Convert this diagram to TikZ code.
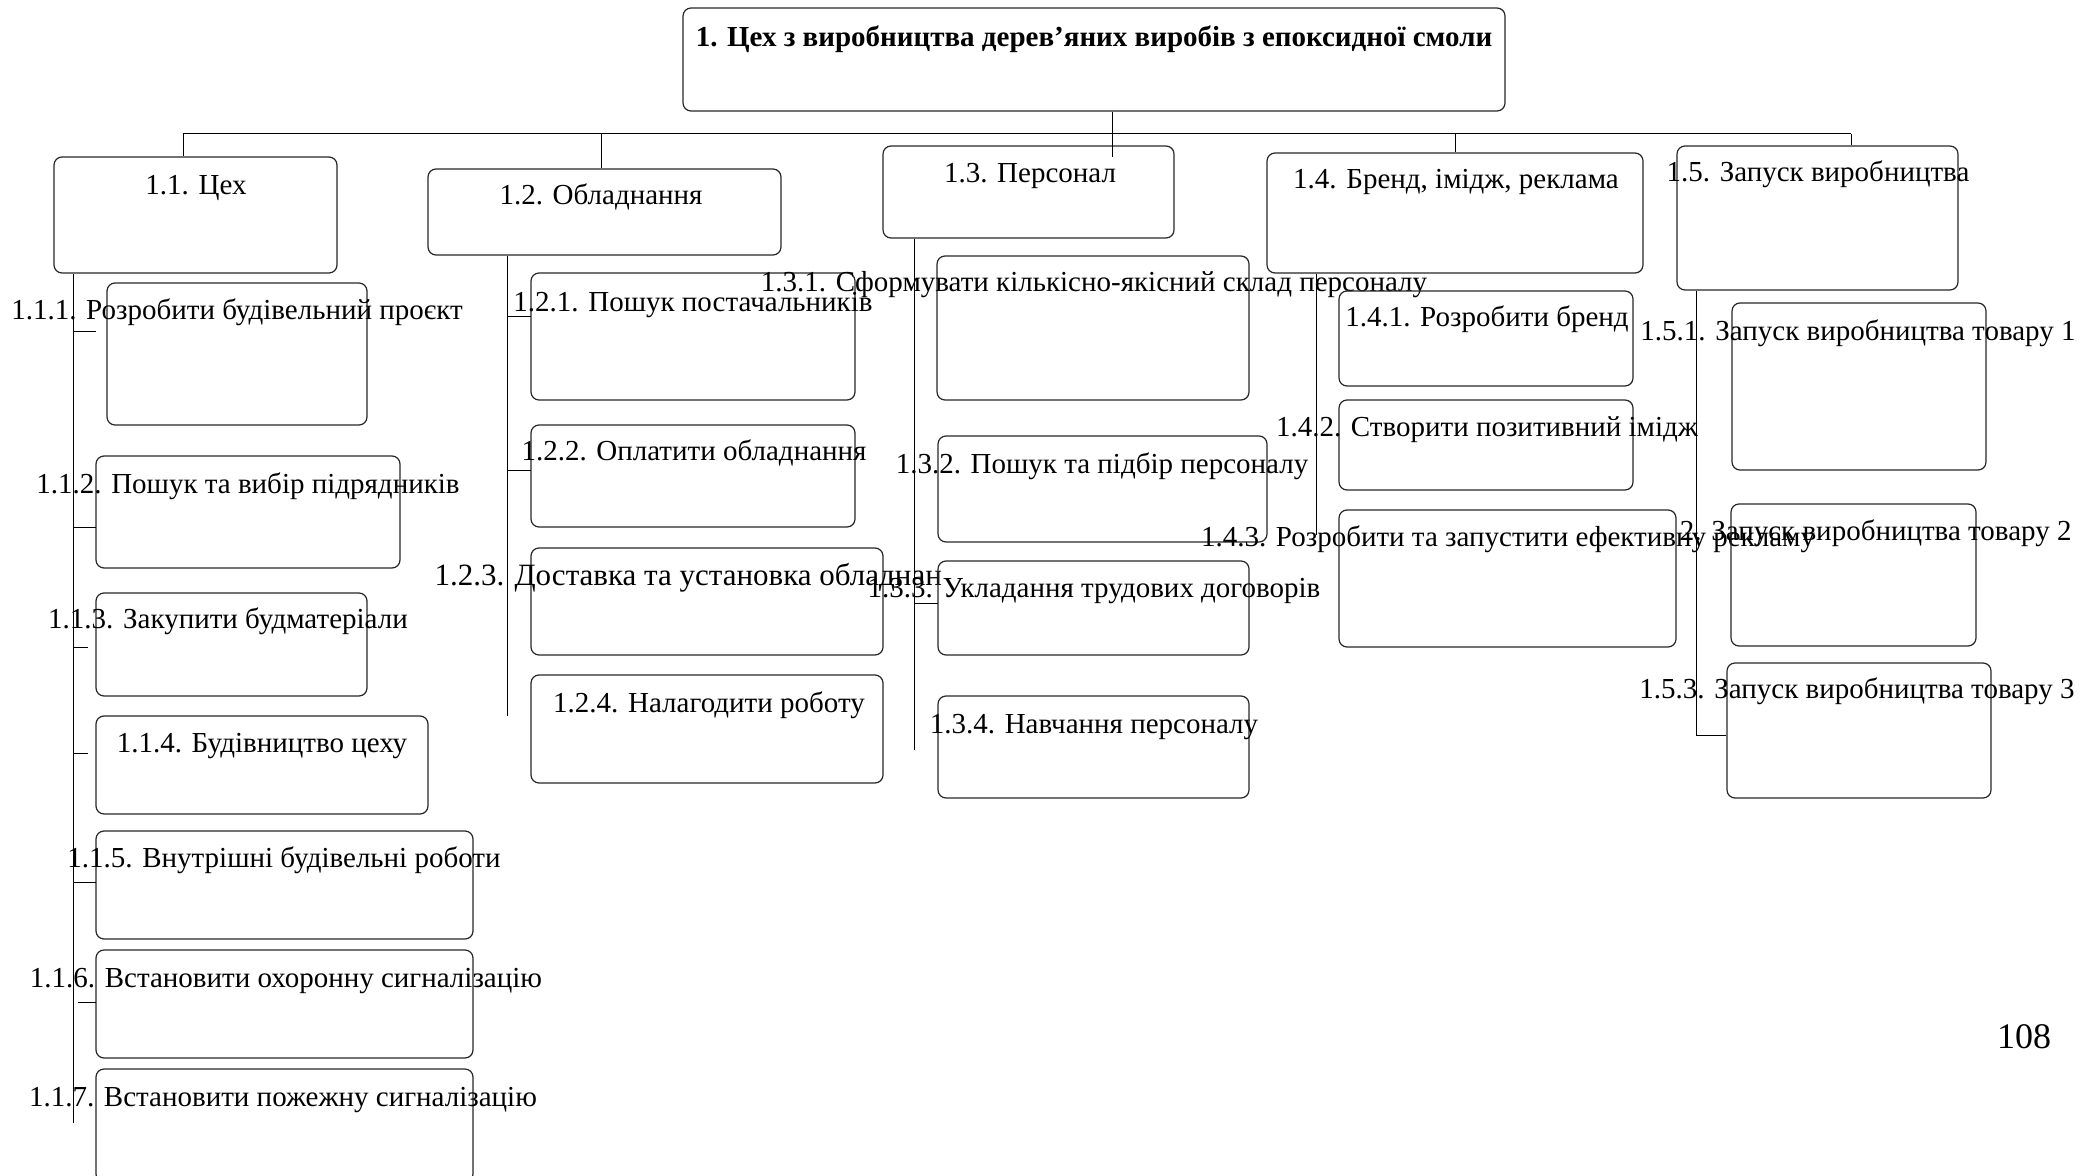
\documentclass[tikz,border=0pt]{standalone}
\usepackage{fontspec}
\setmainfont{Liberation Serif}
\usetikzlibrary{fit}

\begin{document}
\begin{tikzpicture}[x=0.5pt,y=-0.5pt,line width=0.5pt]
  \tikzstyle{wbox}=[draw=black!85,line width=0.6pt,rounded corners=4pt,inner sep=0pt]
  \tikzstyle{lbl}=[anchor=base,inner sep=0pt,font=\fontsize{14.5}{17}\selectfont]
  \tikzstyle{hlbl}=[lbl,font=\fontsize{14.5}{17}\selectfont\bfseries]
  \useasboundingbox (0,0) rectangle (2081,1176);
  % top box
  \node[wbox,fit={(683,8) (1505,111)}] (b1) {};
  \node[hlbl] (t1) at (1094,47) {1. Цех з виробництва дерев’яних виробів з епоксидної смоли};
  % first level
  \node[wbox,fit={(54,157) (337,273)}] (b11) {};
  \node[wbox,fit={(428,169) (781,255)}] (b12) {};
  \node[wbox,fit={(883,146) (1174,238)}] (b13) {};
  \node[wbox,fit={(1267,153) (1643,273)}] (b14) {};
  \node[wbox,fit={(1677,146) (1958,290)}] (b15) {};
  \node[lbl] (t11) at (196,195) {1.1. Цех};
  \node[lbl] (t12) at (601,205) {1.2. Обладнання};
  \node[lbl] (t13) at (1030,183) {1.3. Персонал};
  \node[lbl] (t14) at (1456,189) {1.4. Бренд, імідж, реклама};
  \node[lbl] (t15) at (1818,182) {1.5. Запуск виробництва};
  % column 1.1
  \node[wbox,fit={(107,283) (367,425)}] (b111) {};
  \node[wbox,fit={(96,456) (400,568)}] (b112) {};
  \node[wbox,fit={(96,593) (367,696)}] (b113) {};
  \node[wbox,fit={(96,716) (428,814)}] (b114) {};
  \node[wbox,fit={(96,831) (473,939)}] (b115) {};
  \node[wbox,fit={(96,950) (473,1058)}] (b116) {};
  \node[wbox,fit={(96,1069) (473,1182)}] (b117) {};
  \node[lbl] (t111) at (237,320) {1.1.1. Розробити будівельний проєкт};
  \node[lbl] (t112) at (248,493) {1.1.2. Пошук та вибір підрядників};
  \node[lbl] (t113) at (228,628) {1.1.3. Закупити будматеріали};
  \node[lbl] (t114) at (262,752) {1.1.4. Будівництво цеху};
  \node[lbl] (t115) at (284,867) {1.1.5. Внутрішні будівельні роботи};
  \node[lbl] (t116) at (286,987) {1.1.6. Встановити охоронну сигналізацію};
  \node[lbl] (t117) at (283,1106) {1.1.7. Встановити пожежну сигналізацію};
  % column 1.2
  \node[wbox,fit={(531,273) (855,400)}] (b121) {};
  \node[wbox,fit={(531,425) (855,527)}] (b122) {};
  \node[wbox,fit={(531,548) (883,655)}] (b123) {};
  \node[wbox,fit={(531,675) (883,783)}] (b124) {};
  \node[lbl] (t121) at (693,312) {1.2.1. Пошук постачальників};
  \node[lbl] (t122) at (694,460) {1.2.2. Оплатити обладнання};
  \node[lbl,anchor=base west,font=\fontsize{15.5}{18}\selectfont] (t123) at (434,585) {1.2.3. Доставка та установка обладнан};
  \node[lbl] (t124) at (709,712) {1.2.4. Налагодити роботу};
  % column 1.3
  \node[wbox,fit={(937,256) (1249,400)}] (b131) {};
  \node[wbox,fit={(938,436) (1267,542)}] (b132) {};
  \node[wbox,fit={(938,561) (1249,655)}] (b133) {};
  \node[wbox,fit={(938,696) (1249,798)}] (b134) {};
  \node[lbl] (t131) at (1094,292) {1.3.1. Сформувати кількісно-якісний склад персоналу};
  \node[lbl] (t132) at (1102,473) {1.3.2. Пошук та підбір персоналу};
  \node[lbl] (t133) at (1094,597) {1.3.3. Укладання трудових договорів};
  \node[lbl] (t134) at (1094,733) {1.3.4. Навчання персоналу};
  % column 1.4
  \node[wbox,fit={(1339,291) (1633,386)}] (b141) {};
  \node[wbox,fit={(1339,400) (1633,490)}] (b142) {};
  \node[wbox,fit={(1339,510) (1676,647)}] (b143) {};
  \node[lbl] (t141) at (1487,327) {1.4.1. Розробити бренд};
  \node[lbl] (t142) at (1487,437) {1.4.2. Створити позитивний імідж};
  \node[lbl] (t143) at (1508,546) {1.4.3. Розробити та запустити ефективну рекламу};
  % column 1.5
  \node[wbox,fit={(1732,303) (1986,470)}] (b151) {};
  \node[wbox,fit={(1731,504) (1976,646)}] (b152) {};
  \node[wbox,fit={(1727,663) (1991,798)}] (b153) {};
  \node[lbl] (t151) at (1858,341) {1.5.1. Запуск виробництва товару 1};
  \node[lbl,anchor=base east] (t152) at (2072,540) {2. Запуск виробництва товару 2};
  \node[lbl] (t153) at (1857,698) {1.5.3. Запуск виробництва товару 3};
  % page number
  \node[lbl,font=\fontsize{18}{20}\selectfont] (pg) at (2024,1048) {108};
  % tree lines
  \coordinate (hub) at (1112,157);
  \coordinate (barL) at (183,134);
  \coordinate (barR) at (1851,134);
  \coordinate (d12) at (601,134);
  \coordinate (d14) at (1455,134);
  \draw (b1.south -| hub) -- (hub);
  \draw (barL) -- (barR);
  \draw (barL) -- (barL |- b11.north);
  \draw (d12) -- (d12 |- b12.north);
  \draw (d14) -- (d14 |- b14.north);
  \draw (barR) -- (barR |- b15.north);
  % side spines
  \coordinate (e11) at (73,1123);
  \coordinate (e12) at (507,716);
  \coordinate (e13) at (914,750);
  \coordinate (e14) at (1316,535);
  \coordinate (e15) at (1696,735);
  \draw (b11.south -| e11) -- (e11);
  \draw (b12.south -| e12) -- (e12);
  \draw (b13.south -| e13) -- (e13);
  \draw (b14.south -| e14) -- (e14);
  \draw (b15.south -| e15) -- (e15) -- (e15 -| b153.west);
  % short ticks
  \foreach \xa/\xb/\y in {73/96/332,73/96/527,73/88/647,73/88/753,73/96/882,78/96/1002,
      507/531/317,507/531/470,914/938/603}
    \draw (\xa,\y) -- (\xb,\y);
\end{tikzpicture}
\end{document}
